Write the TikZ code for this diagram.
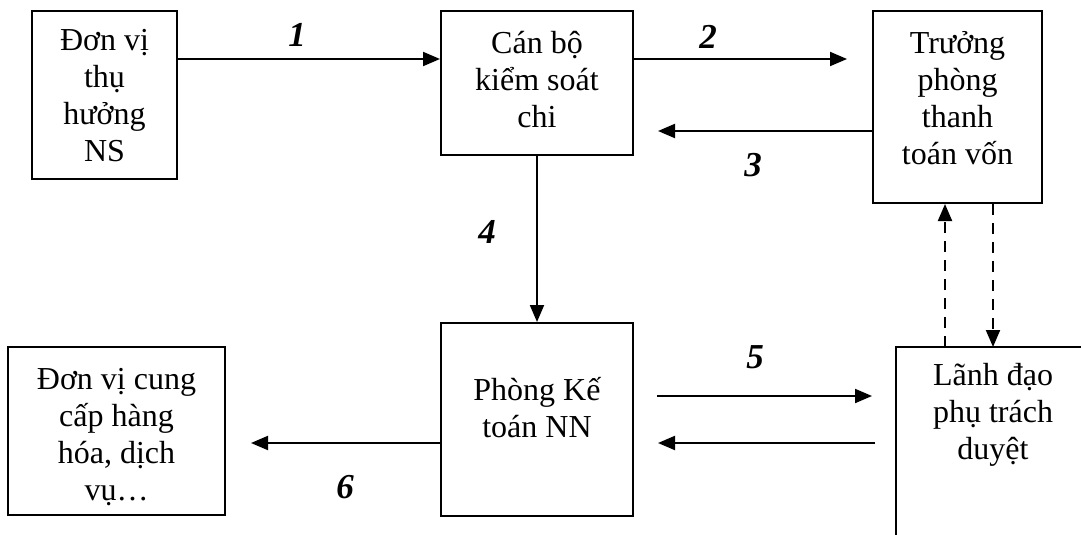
\documentclass[tikz,border=0pt]{standalone}
\usepackage{fontspec}
\setmainfont{Liberation Serif}
\usetikzlibrary{arrows.meta}

\tikzset{
  box/.style={draw, line width=2pt, inner sep=0pt},
  boxtext/.style={align=center, inner sep=0pt, font=\fontsize{32}{37}\selectfont},
  num/.style={inner sep=0pt, font=\fontsize{35}{40}\selectfont\bfseries\itshape},
  arr/.style={line width=2pt, -{Triangle[length=17pt,width=14pt]}},
  darr/.style={arr, dash pattern=on 11pt off 8pt},
  edge/.style={line width=2pt}
}

\begin{document}
\begin{tikzpicture}[x=1pt, y=-1pt]
  \useasboundingbox (0,0) rectangle (1081,535);

  % row heights of the horizontal connectors
  \coordinate (r1) at (0,59);
  \coordinate (r3) at (0,131);
  \coordinate (r5) at (0,396);
  \coordinate (r6) at (0,443);

  % boxes
  \node[box, minimum width=145pt, minimum height=168pt] (A) at (104.5,95) {};
  \node[box, minimum width=192pt, minimum height=144pt] (B) at (537,83) {};
  \node[box, minimum width=169pt, minimum height=192pt] (C) at (957.5,107) {};
  \node[box, minimum width=192pt, minimum height=193pt] (D) at (537,419.5) {};
  \node[box, minimum width=217pt, minimum height=168pt] (E) at (116.5,431) {};

  % box captions
  \node[boxtext] (tA) at ([yshift=-1pt]A.center) {Đơn vị\\thụ\\hưởng\\NS};
  \node[boxtext] (tB) at ([yshift=3pt]B.center) {Cán bộ\\kiểm soát\\chi};
  \node[boxtext] (tC) at ([yshift=9pt]C.center) {Trưởng\\phòng\\thanh\\toán vốn};
  \node[boxtext] (tD) at ([yshift=12pt]D.center) {Phòng Kế\\toán NN};
  \node[boxtext] (tE) at ([yshift=-6pt]E.center) {Đơn vị cung\\cấp hàng\\hóa, dịch\\vụ…};

  % open box running off the page
  \coordinate (Fleft) at (896,347);
  \coordinate (Fbot) at (896,535);
  \coordinate (Fright) at (1081,347);
  \draw[edge] (Fbot) -- (Fleft) -- (Fright);
  \node[boxtext] (F) at (993,415) {Lãnh đạo\\phụ trách\\duyệt};
  \coordinate (Fup) at (945,347);
  \coordinate (Fdn) at (993,347);

  % connectors
  \draw[arr] (A.east |- r1) -- (B.west |- r1);
  \draw[arr, shorten >=25pt] (B.east |- r1) -- (C.west |- r1);
  \draw[arr, shorten >=24pt] (C.west |- r3) -- (B.east |- r3);
  \draw[arr] (B.south) -- (D.north);
  \draw[arr, shorten <=23pt, shorten >=24pt] (D.east |- r5) -- (Fleft |- r5);
  \draw[arr, shorten <=21pt, shorten >=24pt] (Fleft |- r6) -- (D.east |- r6);
  \draw[arr, shorten >=25pt] (D.west |- r6) -- (E.east |- r6);
  \draw[darr] (Fup) -- (Fup |- C.south);
  \draw[darr] (Fdn |- C.south) -- (Fdn);

  % step numbers
  \node[num] (n1) at (297,35) {1};
  \node[num] (n2) at (708,37) {2};
  \node[num] (n3) at (753,165) {3};
  \node[num] (n4) at (487,232) {4};
  \node[num] (n5) at (755,357) {5};
  \node[num] (n6) at (345,487) {6};
\end{tikzpicture}
\end{document}
